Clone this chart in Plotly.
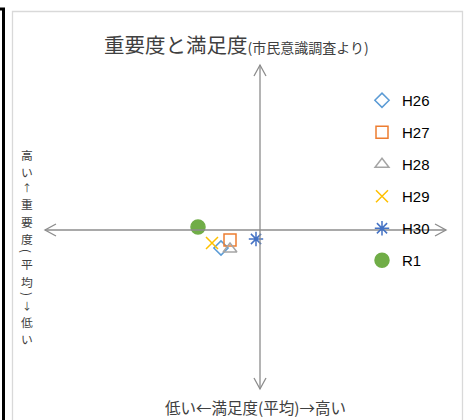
import plotly.graph_objects as go

# ---- data ----
series = ["H26", "H27", "H28", "H29", "H30", "R1"]
satisfaction = [-0.39, -0.30, -0.30, -0.48, -0.04, -0.62]   # 満足度 (x)
importance = [-0.18, -0.10, -0.19, -0.13, -0.09, 0.03]      # 重要度 (y)

title_main = "重要度と満足度"
title_sub = "(市民意識調査より)"
x_title = "低い←満足度(平均)→高い"
y_title_chars = ["高", "い", "↑", "重", "要", "度", "(", "平", "均", ")", "↓", "低", "い"]

# ---- style ----
colors = ["#5B9BD5", "#ED7D31", "#A5A5A5", "#FFC000", "#4472C4", "#70AD47"]
symbols = ["diamond-open", "square-open", "triangle-up-open", "x-thin-open", "asterisk-open", "circle"]
sizes = [11, 12, 12, 12, 12, 14]

W, H = 469, 420
XR = [-2.60, 2.09]
YR = [-1.90, 2.30]
JP = "Noto Sans CJK JP"
AX = "#8c8c8c"


def px(x):
    return x / W


def py(y):
    return 1 - y / H


cx = (0 - XR[0]) / (XR[1] - XR[0]) * W   # pixel of x=0
cy = (YR[1] - 0) / (YR[1] - YR[0]) * H   # pixel of y=0

fig = go.Figure()
for name, xv, yv, c, s, sz in zip(series, satisfaction, importance, colors, symbols, sizes):
    fig.add_trace(go.Scatter(
        x=[xv], y=[yv], mode="markers", name=name, legendgroup=name,
        marker=dict(symbol=s, size=sz, color=c, line=dict(color=c, width=1.5)),
    ))

shapes = []
# outer frame pieces
shapes.append(dict(type="path", xref="paper", yref="paper",
                   path=f"M {px(0)} {py(9)} L {px(3.5)} {py(9)} L {px(3.5)} {py(425)}",
                   line=dict(color="#000000", width=3)))
shapes.append(dict(type="rect", xref="paper", yref="paper",
                   x0=px(12.5), y0=py(11.5), x1=px(462.5), y1=py(430),
                   line=dict(color="#d9d9d9", width=1.3)))
# axis lines
L, R, T, B = 45, 446, 65, 389
shapes.append(dict(type="line", xref="paper", yref="paper",
                   x0=px(L), x1=px(R), y0=py(cy), y1=py(cy), line=dict(color=AX, width=1.3)))
shapes.append(dict(type="line", xref="paper", yref="paper",
                   x0=px(cx), x1=px(cx), y0=py(T), y1=py(B), line=dict(color=AX, width=1.3)))
a, w = 11, 6
heads = [
    (L, cy, L + a, cy - w, L + a, cy + w),
    (R, cy, R - a, cy - w, R - a, cy + w),
    (cx, T, cx - w, T + a, cx + w, T + a),
    (cx, B, cx - w, B - a, cx + w, B - a),
]
for tx, ty, ax1, ay1, ax2, ay2 in heads:
    shapes.append(dict(type="path", xref="paper", yref="paper",
                       path=f"M {px(ax1)} {py(ay1)} L {px(tx)} {py(ty)} L {px(ax2)} {py(ay2)}",
                       line=dict(color=AX, width=1.3)))

annotations = []
annotations.append(dict(
    text=f'{title_main}<span style="font-size:14px">{title_sub}</span>',
    xref="paper", yref="paper", x=px(237), y=py(44), xanchor="center", yanchor="middle",
    showarrow=False, font=dict(family=JP, size=20.5, color="#404040")))
annotations.append(dict(
    text=x_title, xref="paper", yref="paper", x=px(255), y=py(407),
    xanchor="center", yanchor="middle", showarrow=False,
    font=dict(family=JP, size=15.5, color="#404040")))

ypos = 154
prev = None
for ch in y_title_chars:
    if ch in "()":
        adv, fs, ang = 8, 11.8, 90
    elif ch in "↑↓":
        adv, fs, ang = 14.8, 10, 0
    else:
        adv, fs, ang = 17.4, 11.8, 0
    if prev is not None:
        ypos += prev / 2 + adv / 2
    annotations.append(dict(
        text=ch, xref="paper", yref="paper", x=px(27), y=py(ypos),
        xanchor="center", yanchor="middle", showarrow=False, textangle=ang,
        borderpad=0, font=dict(family=JP, size=fs, color="#404040")))
    prev = adv

fig.update_layout(
    width=W, height=H,
    margin=dict(l=0, r=0, t=0, b=0),
    paper_bgcolor="white", plot_bgcolor="white",
    xaxis=dict(range=XR, visible=False, domain=[0, 1]),
    yaxis=dict(range=YR, visible=False, domain=[0, 1]),
    shapes=shapes, annotations=annotations,
    showlegend=True,
    legend=dict(x=px(362), y=py(84), xanchor="left", yanchor="top",
                bgcolor="rgba(0,0,0,0)", borderwidth=0, tracegroupgap=9.5,
                font=dict(family="Liberation Sans", size=15, color="#000000")),
)

fig.write_html("out.html")
